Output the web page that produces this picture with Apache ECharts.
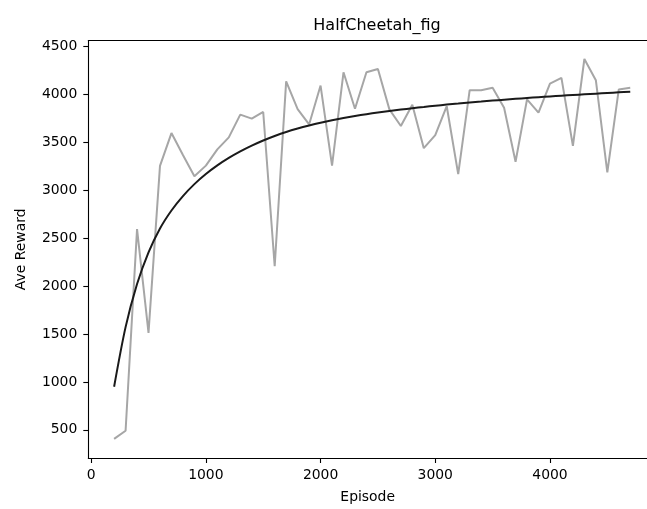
<!DOCTYPE html>
<html>
<head>
<meta charset="utf-8">
<script src="https://cdn.jsdelivr.net/npm/echarts@6/dist/echarts.min.js"></script>
<style>
html,body{margin:0;padding:0;background:#fff;}
#chart{width:647px;height:509px;}
</style>
</head>
<body>
<div id="chart"></div>
<script>
const episodes = [200,300,400,500,600,700,800,900,1000,1100,1200,1300,1400,1500,1600,1700,1800,1900,2000,2100,2200,2300,2400,2500,2600,2700,2800,2900,3000,3100,3200,3300,3400,3500,3600,3700,3800,3900,4000,4100,4200,4300,4400,4500,4600,4700];
const rawReward = [405,490,2595,1512,3255,3598,3368,3148,3258,3428,3553,3790,3748,3818,2208,4138,3848,3688,4094,3258,4232,3851,4232,4267,3845,3672,3893,3440,3576,3878,3170,4045,4045,4070,3862,3299,3949,3811,4115,4174,3464,4371,4150,3187,4053,4070];
const fitReward = [950,1572,2022,2352,2602,2790,2940,3065,3170,3260,3338,3406,3466,3520,3567,3609,3645,3677,3706,3732,3755,3776,3795,3812,3828,3843,3857,3870,3883,3895,3906,3917,3927,3937,3946,3955,3964,3972,3980,3988,3995,4002,4009,4016,4023,4030];
const xTicks = [0,1000,2000,3000,4000];
const yTicks = [500,1000,1500,2000,2500,3000,3500,4000,4500];

const chart = echarts.init(document.getElementById('chart'), null, {renderer:'canvas'});
const font = 'DejaVu Sans';
const line = {color:'#000',width:1.1};
chart.setOption({
  animation:false,
  backgroundColor:'#fff',
  title:{text:'HalfCheetah_fig',left:372,top:13,textAlign:'center',
    textStyle:{fontFamily:font,fontSize:16,fontWeight:'normal',color:'#000'}},
  grid:{left:88.3,right:0,top:40.7,bottom:48,show:false},
  xAxis:[{
    type:'value',min:-25,max:4846,position:'bottom',
    name:'Episode',nameLocation:'middle',nameGap:32,
    nameTextStyle:{fontFamily:font,fontSize:13.9,color:'#000'},
    axisLine:{show:true,onZero:false,lineStyle:line},
    splitLine:{show:false},
    axisTick:{show:true,length:5,lineStyle:line,customValues:xTicks},
    axisLabel:{fontFamily:font,fontSize:13.9,color:'#000',margin:10,customValues:xTicks,formatter:v=>String(v)}
  },{
    type:'value',min:-25,max:4846,position:'top',
    axisLine:{show:true,onZero:false,lineStyle:line},
    splitLine:{show:false},axisTick:{show:false},axisLabel:{show:false}
  }],
  yAxis:{
    type:'value',min:206,max:4562,
    name:'Ave Reward',nameLocation:'middle',nameGap:60,
    nameTextStyle:{fontFamily:font,fontSize:13.9,color:'#000'},
    axisLine:{show:true,onZero:false,lineStyle:line},
    splitLine:{show:false},
    axisTick:{show:true,length:5,lineStyle:line,customValues:yTicks},
    axisLabel:{fontFamily:font,fontSize:13.9,color:'#000',margin:11,customValues:yTicks,formatter:v=>String(v)}
  },
  series:[
    {type:'line',data:episodes.map((e,i)=>[e,rawReward[i]]),showSymbol:false,
     lineStyle:{color:'#a6a6a6',width:2},z:2},
    {type:'line',data:episodes.map((e,i)=>[e,fitReward[i]]),showSymbol:false,smooth:0.3,
     lineStyle:{color:'#1a1a1a',width:2},z:3}
  ]
});
</script>
</body>
</html>
